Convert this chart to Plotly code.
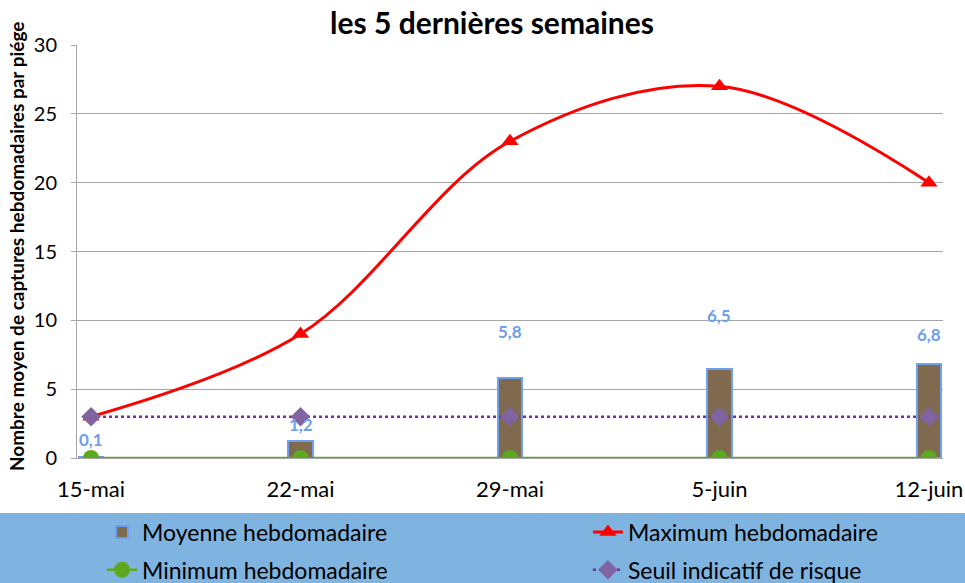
import plotly.graph_objects as go

categories = ["15-mai", "22-mai", "29-mai", "5-juin", "12-juin"]
moyenne = [0.1, 1.2, 5.8, 6.5, 6.8]
maximum = [3, 9, 23, 27, 20]
minimum = [0, 0, 0, 0, 0]
seuil = [3, 3, 3, 3, 3]
y_ticks = [0, 5, 10, 15, 20, 25, 30]

label_shift = [17, 17, 47, 53, 30]

FONT = "Lato"
x_idx = list(range(len(categories)))

fig = go.Figure()
fig.add_trace(go.Bar(
    x=x_idx, y=moyenne, name="Moyenne hebdomadaire", width=0.115,
    marker=dict(color="#7F6A50", line=dict(color="#6F9FEF", width=2)),
    legend="legend", showlegend=True,
))
fig.add_trace(go.Scatter(
    x=x_idx, y=maximum, name="Maximum hebdomadaire", mode="lines+markers",
    line=dict(color="#FF0000", width=3, shape="spline", smoothing=1.0),
    marker=dict(symbol="triangle-up", size=15, color="#FF0000"),
    legend="legend2", showlegend=True,
))
fig.add_trace(go.Scatter(
    x=x_idx, y=minimum, name="Minimum hebdomadaire", mode="lines+markers",
    line=dict(color="#5EA820", width=2.5),
    marker=dict(symbol="circle", size=16, color="#5EA820"),
    legend="legend3", showlegend=True,
))
fig.add_trace(go.Scatter(
    x=x_idx, y=seuil, name="Seuil indicatif de risque", mode="lines+markers",
    line=dict(color="#7030A0", width=2.5, dash="dot"),
    marker=dict(symbol="diamond", size=15, color="#8064A2"),
    legend="legend4", showlegend=True,
))

for i, v in enumerate(moyenne):
    fig.add_annotation(
        x=x_idx[i], y=v, text=f"<b>{v:.1f}</b>".replace(".", ","), showarrow=False,
        yshift=label_shift[i], xref="x", yref="y",
        font=dict(family=FONT, size=17, color="#6E9EEB"),
    )

# title and y-axis title
fig.add_annotation(
    x=0.4797, y=1.0557, xref="paper", yref="paper", showarrow=False,
    text="<b>les 5 dernières semaines</b>", xanchor="center", yanchor="middle",
    font=dict(family=FONT, size=30, color="#000000"),
)
fig.add_annotation(
    x=-0.070, y=0.514, xref="paper", yref="paper", showarrow=False,
    text="<b>Nombre moyen de captures hebdomadaires par piége</b>",
    textangle=-90, xanchor="center", yanchor="middle",
    font=dict(family=FONT, size=19, color="#000000"),
)

# legend band
fig.add_shape(type="rect", xref="paper", yref="paper",
              x0=-0.2, x1=1.2, y0=-0.5, y1=-0.1332,
              fillcolor="#7FB4E1", line=dict(width=0), layer="below")

leg_common = dict(orientation="h", bgcolor="rgba(0,0,0,0)", borderwidth=0,
                  font=dict(family=FONT, size=23, color="#000000"),
                  xanchor="left", yanchor="middle")
fig.update_layout(
    showlegend=True,
    legend=dict(x=0.0289, y=-0.179, **leg_common),
    legend2=dict(x=0.590, y=-0.179, **leg_common),
    legend3=dict(x=0.0289, y=-0.271, **leg_common),
    legend4=dict(x=0.590, y=-0.271, **leg_common),
)

fig.update_layout(
    width=965, height=583,
    margin=dict(l=77, r=22, t=45, b=125, autoexpand=False),
    paper_bgcolor="white", plot_bgcolor="white",
    font=dict(family=FONT, color="#000000"),
    bargap=0,
    xaxis=dict(
        tickmode="array", tickvals=x_idx, ticktext=categories,
        range=[-0.067, 4.067], showgrid=False, zeroline=False,
        showline=True, linecolor="#A6A6A6", linewidth=1, automargin=False,
        ticks="", ticklabelstandoff=12,
        tickfont=dict(family=FONT, size=22, color="#000000"),
    ),
    yaxis=dict(
        range=[0, 30], tickmode="array", tickvals=y_ticks, automargin=False,
        showgrid=True, gridcolor="#A6A6A6", gridwidth=1, zeroline=False,
        showline=True, linecolor="#A6A6A6", linewidth=1,
        ticks="outside", ticklen=5, tickcolor="#A6A6A6", ticklabelstandoff=10,
        tickfont=dict(family=FONT, size=20, color="#000000"),
    ),
)

fig.write_html("out.html", config={"displayModeBar": False},
               post_script="document.body.style.margin='0';document.body.style.padding='0';")
